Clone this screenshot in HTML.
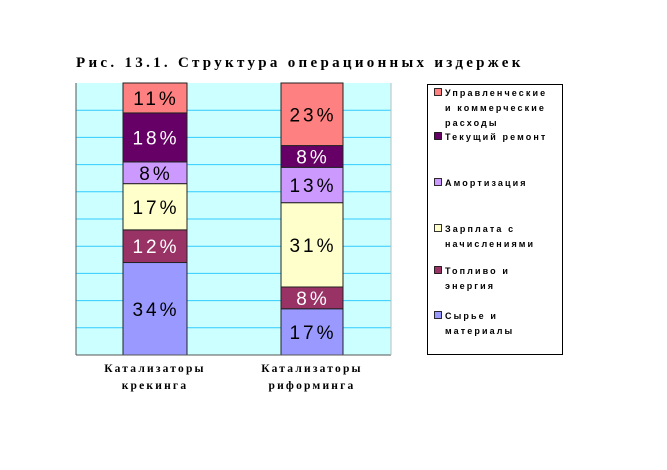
<!DOCTYPE html>
<html><head><meta charset="utf-8"><style>
body{margin:0;background:#fff;}
svg text{font-family:"Liberation Sans",sans-serif;}
</style></head><body>
<svg width="667" height="465" xmlns="http://www.w3.org/2000/svg">
<text x="76" y="67" font-family="Liberation Serif" font-weight="bold" font-size="15" letter-spacing="3.3" style="font-family:'Liberation Serif',serif">Рис. 13.1. Структура операционных издержек</text>
<rect x="76" y="83" width="315" height="272" fill="#ccffff"/>
<g id="grid"></g>
<g id="bars"></g>
<line x1="76" y1="83" x2="76" y2="355" stroke="#555"/>
<line x1="76" y1="355" x2="391" y2="355" stroke="#555"/>
<line x1="391" y1="83" x2="391" y2="355" stroke="#bbb"/>
<g id="cats"></g>
<rect x="427.5" y="84.5" width="135" height="270" fill="#fff" stroke="#000"/>
<g id="legend"></g>
</svg>
<script>
const categories=[["Катализаторы","крекинга"],["Катализаторы","риформинга"]];
const seriesNames=[["Сырье и","материалы"],["Топливо и","энергия"],["Зарплата с","начислениями"],["Амортизация"],["Текущий ремонт"],["Управленческие","и коммерческие","расходы"]];
const seriesColors=["#9999ff","#993366","#ffffcc","#cc99ff","#660066","#ff8080"];
const labelColors=["#000","#fff","#000","#000","#fff","#000"];
const crackingValues=[34,12,17,8,18,11];
const reformingValues=[17,8,31,13,8,23];
const values=[crackingValues,reformingValues];
const NS="http://www.w3.org/2000/svg";
const y0=355,h=272,yMax=100;
const yScale=v=>y0-v/yMax*h;
const barX=[123,281],barW=[64,62];
function mk(tag,attrs,parent){const e=document.createElementNS(NS,tag);for(const k in attrs)e.setAttribute(k,attrs[k]);parent.appendChild(e);return e;}
const grid=document.getElementById('grid');
for(let v=10;v<100;v+=10){
 const l=mk('line',{x1:76,x2:391,y1:yScale(v),y2:yScale(v),stroke:'#33ccff'},grid);
 
 
}
const bars=document.getElementById('bars');
values.forEach((vals,ci)=>{
 let acc=0;
 vals.forEach((v,si)=>{
  const yt=yScale(acc+v),yb=yScale(acc);
  const r=mk('rect',{x:barX[ci],y:yt,width:barW[ci],height:yb-yt,fill:seriesColors[si],stroke:'#222','stroke-width':1},bars);
  
  
  const t=mk('text',{x:barX[ci]+barW[ci]/2+1,y:(yt+yb)/2+7,'text-anchor':'middle','font-size':19,'letter-spacing':3,fill:labelColors[si]},bars);
  t.textContent=v+'%';
  
  
  acc+=v;
 });
});
const cats=document.getElementById('cats');
categories.forEach((c,ci)=>{
 c.forEach((line,li)=>{
  const t=mk('text',{x:barX[ci]+barW[ci]/2,y:372+li*17,'text-anchor':'middle','font-size':11.5,'font-weight':'bold','letter-spacing':2.2,style:"font-family:'Liberation Serif',serif"},cats);
  t.textContent=line;
  
  
 });
});
const legend=document.getElementById('legend');
const legY=[93,137,183,229,271,316];
for(let i=5;i>=0;i--){
 const y=legY[5-i];
 const s=mk('rect',{x:434.5,y:y-4.5,width:7,height:7,fill:seriesColors[i],stroke:'#000','stroke-width':0.8},legend);
 
 
 seriesNames[i].forEach((line,li)=>{
  const t=mk('text',{x:445,y:y+3+li*15,'font-size':9,'font-weight':'bold','letter-spacing':2.1},legend);
  t.textContent=line;
  
  
 });
}
</script>
</body></html>
